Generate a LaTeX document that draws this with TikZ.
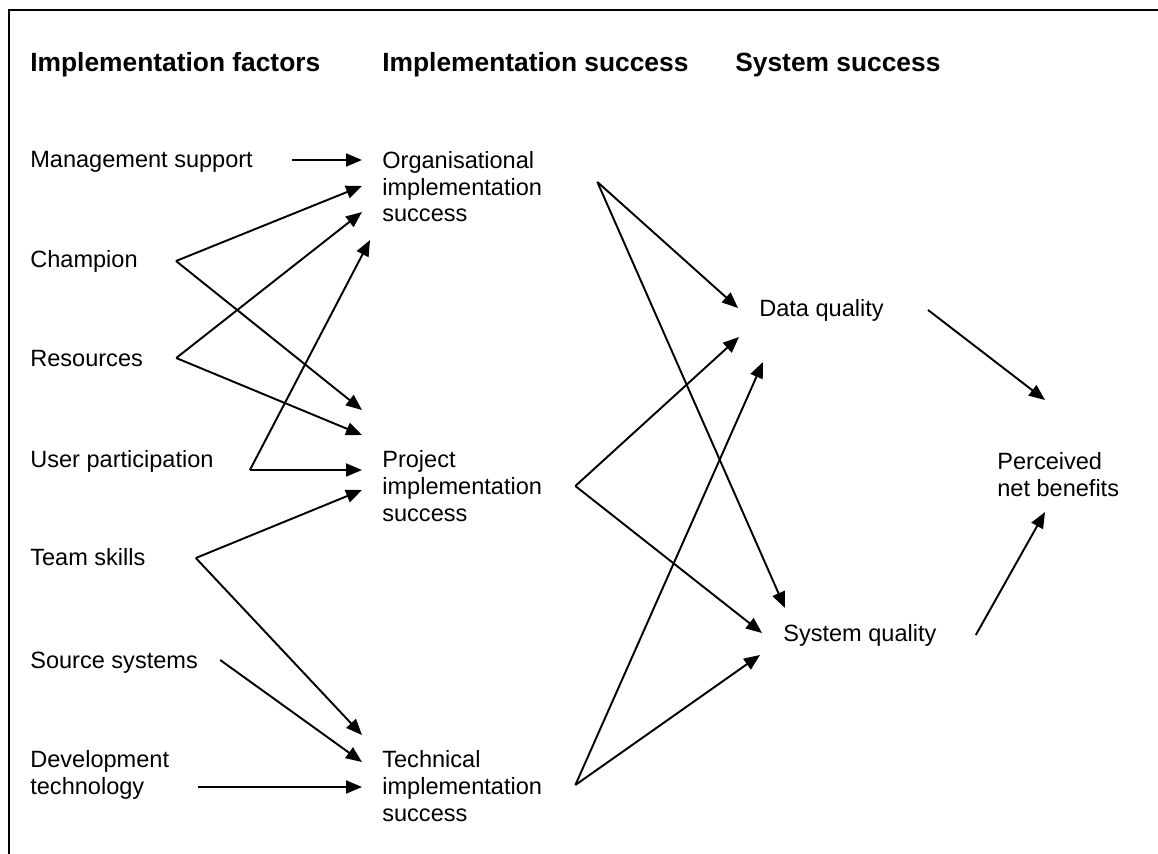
\documentclass[tikz,border=0pt]{standalone}
\usepackage{fontspec}
\setmainfont{Liberation Sans}
\usetikzlibrary{arrows.meta,calc}

\begin{document}
\begin{tikzpicture}[x=0.02cm,y=-0.02cm,
	head/.style={inner sep=0pt, anchor=base west,
		font=\fontsize{15}{18}\selectfont\bfseries},
	factor/.style={inner sep=0pt, anchor=base west, align=left,
		font=\fontsize{13.4}{15.3}\selectfont},
	link/.style={line width=1.1pt,
		-{Triangle[length=0.32cm,width=0.26cm]}}
]

\useasboundingbox (0,0) rectangle (1158,854);

% Frame
\draw[line width=1.1pt] (9,854) |- (1158,10);

% Column headings
\node [head] (h_factors) at (30,72) {Implementation factors};
\node [head] (h_impl) at (382,72) {Implementation success};
\node [head] (h_system) at (735,72) {System success};

% Implementation factors
\node [factor] (management) at (30,168) {Management support};
\node [factor] (champion) at (30,268) {Champion};
\node [factor] (resources) at (30,366) {Resources};
\node [factor] (participation) at (30,467) {User participation};
\node [factor] (skills) at (30,565) {Team skills};
\node [factor] (sources) at (30,668) {Source systems};
\node [factor] (devtech) at (30,794) {Development\\technology};

% Implementation success (anchored on the last line)
\node [factor] (organisational) at (382,222) {Organisational\\implementation\\success};
\node [factor] (project) at (382,521) {Project\\implementation\\success};
\node [factor] (technical) at (382,821) {Technical\\implementation\\success};

% System success
\node [factor] (data) at (759,317) {Data quality};
\node [factor] (sysquality) at (783,641) {System quality};

% Net benefits
\node [factor] (benefits) at (997,496) {Perceived\\net benefits};

% Arrows into implementation success
\draw[link] ($(management.base east)+(39,-8)$) -- ($(organisational.base west)+(-20,-62)$);
\draw[link] ($(champion.base east)+(38,-7)$) -- ($(organisational.base west)+(-20,-36)$);
\draw[link] ($(champion.base east)+(38,-7)$) -- ($(project.base west)+(-20,-111)$);
\draw[link] ($(resources.base east)+(33,-8)$) -- ($(organisational.base west)+(-20,-10)$);
\draw[link] ($(resources.base east)+(33,-8)$) -- ($(project.base west)+(-20,-86)$);
\draw[link] ($(participation.base east)+(36,3)$) -- ($(organisational.base west)+(-12,18)$);
\draw[link] ($(participation.base east)+(36,3)$) -- ($(project.base west)+(-20,-51)$);
\draw[link] ($(skills.base east)+(50,-7)$) -- ($(project.base west)+(-20,-31)$);
\draw[link] ($(skills.base east)+(50,-7)$) -- ($(technical.base west)+(-20,-86)$);
\draw[link] ($(sources.base east)+(22,-8)$) -- ($(technical.base west)+(-20,-59)$);
\draw[link] ($(devtech.base east)+(29,-7)$) -- ($(technical.base west)+(-20,-34)$);

% Arrows into system success
\draw[link] ($(organisational.base east)+(55,-40)$) -- ($(data.base west)+(-21,-9)$);
\draw[link] ($(organisational.base east)+(55,-40)$) -- ($(sysquality.base west)+(2,-33)$);
\draw[link] ($(project.base east)+(33,-35)$) -- ($(data.base west)+(-20,20)$);
\draw[link] ($(project.base east)+(33,-35)$) -- ($(sysquality.base west)+(-21,-8)$);
\draw[link] ($(technical.base east)+(33,-36)$) -- ($(data.base west)+(4,45)$);
\draw[link] ($(technical.base east)+(33,-36)$) -- ($(sysquality.base west)+(-23,14)$);

% Arrows into net benefits
\draw[link] ($(data.base east)+(44,-7)$) -- ($(benefits.base west)+(48,-96)$);
\draw[link] ($(sysquality.base east)+(39,-6)$) -- ($(benefits.base west)+(48,16)$);

\end{tikzpicture}
\end{document}
